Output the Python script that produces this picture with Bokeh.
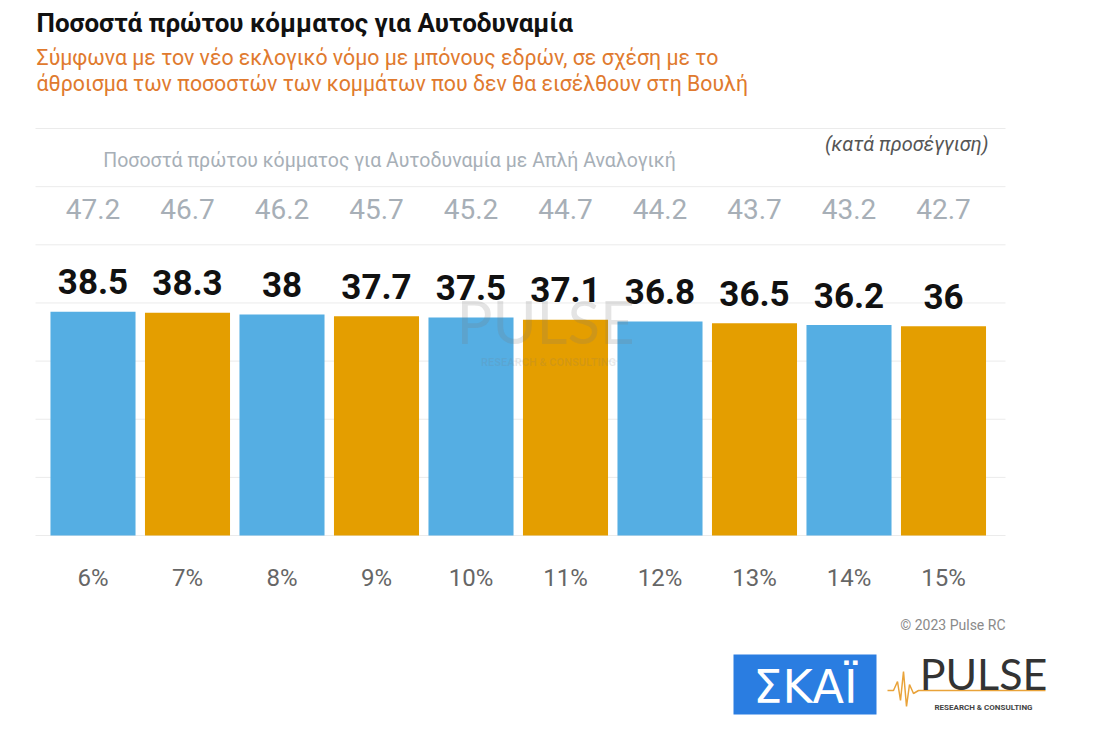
from bokeh.plotting import figure
from bokeh.models import Range1d, ColumnDataSource
from bokeh.core.properties import value
from bokeh.embed import file_html
from bokeh.resources import INLINE

# ---------------- data ----------------
thresholds = ["6%", "7%", "8%", "9%", "10%", "11%", "12%", "13%", "14%", "15%"]
first_party = [38.5, 38.3, 38.0, 37.7, 37.5, 37.1, 36.8, 36.5, 36.2, 36.0]
simple_prop = [47.2, 46.7, 46.2, 45.7, 45.2, 44.7, 44.2, 43.7, 43.2, 42.7]
grid_ticks = [0, 10, 20, 30, 40, 50, 60, 70]

title = "Ποσοστά πρώτου κόμματος για Αυτοδυναμία"
subtitle_1 = "Σύμφωνα με τον νέο εκλογικό νόμο με μπόνους εδρών, σε σχέση με το"
subtitle_2 = "άθροισμα των ποσοστών των κομμάτων που δεν θα εισέλθουν στη Βουλή"
row_heading = "Ποσοστά πρώτου κόμματος για Αυτοδυναμία με Απλή Αναλογική"
approx_note = "(κατά προσέγγιση)"
credit = "© 2023 Pulse RC"

BLUE = "#55AEE3"
ORANGE = "#E49E00"
FONT = value("Roboto")

# ---------------- layout helpers (page pixel -> data) ----------------
W, H = 1084, 724
X0, DX = 92.5, 94.5     # page x of first bar centre, bar spacing
Y0, DY = 535.0, 5.814   # page y of zero line, pixels per unit
OFF = 0                 # page offset of the canvas


def px(x):
    return (x - X0) / DX


def py(y):
    return (Y0 - y) / DY


p = figure(width=W, height=H, output_backend="svg", toolbar_location=None,
           x_range=Range1d(px(OFF), px(OFF + W)),
           y_range=Range1d(py(OFF + H), py(OFF)),
           x_axis_location=None, y_axis_location=None, min_border=0,
           tools="")
p.outline_line_color = None
p.xgrid.visible = False
p.ygrid.visible = False
p.background_fill_color = "white"
p.border_fill_color = "white"

idx = list(range(len(thresholds)))
colors = [BLUE if i % 2 == 0 else ORANGE for i in idx]

# grid lines
p.segment(x0=[px(35)] * len(grid_ticks), x1=[px(1005)] * len(grid_ticks),
          y0=grid_ticks, y1=grid_ticks, line_color="#EBEBEB", line_width=1)

# bars
src = ColumnDataSource(dict(x=idx, top=first_party, color=colors,
                            lab=[f"{v:g}" for v in first_party],
                            sp=[f"{v:g}" for v in simple_prop],
                            cat=thresholds))
p.vbar(x="x", top="top", width=0.9, bottom=0, fill_color="color",
       line_color=None, source=src)

# value labels above bars
p.text(x="x", y="top", text="lab", source=src, text_align="center",
       text_baseline="middle", y_offset=-30, text_font=FONT,
       text_font_size="35px", text_font_style="bold", text_color="#111111")

# simple-proportional row
p.text(x="x", y=py(208), text="sp", source=src,
       text_align="center", text_baseline="middle", text_font=FONT,
       text_font_size="28px", text_color="#A7AFB7")

# category labels
p.text(x="x", y=py(577), text="cat", source=src,
       text_align="center", text_baseline="middle", text_font=FONT,
       text_font_size="24px", text_color="#666666")

# titles
p.text(x=[px(36)], y=[py(22)], text=[title], text_align="left",
       text_baseline="middle", text_font=FONT, text_font_size="26px",
       text_font_style="bold", text_color="#111111")
p.text(x=[px(36), px(36)], y=[py(57), py(83)], text=[subtitle_1, subtitle_2],
       text_align="left", text_baseline="middle", text_font=FONT,
       text_font_size="21.3px", text_color="#E07A2E")
p.text(x=[px(389)], y=[py(160)], text=[row_heading], text_align="center",
       text_baseline="middle", text_font=FONT, text_font_size="19.5px",
       text_color="#A7AFB7")
p.text(x=[px(988)], y=[py(143)], text=[approx_note], text_align="right",
       text_baseline="middle", text_font=FONT, text_font_size="20px",
       text_font_style="italic", text_color="#555555")
p.text(x=[px(1005)], y=[py(624)], text=[credit], text_align="right",
       text_baseline="middle", text_font=FONT, text_font_size="14px",
       text_color="#8A8A8A")

# watermark
p.text(x=[px(545)], y=[py(320)], text=["PULSE"], text_align="center",
       text_baseline="middle", text_font=value("Lato"), text_font_size="60px",
       text_color="#777777", text_alpha=0.2)
p.text(x=[px(548)], y=[py(362)], text=["RESEARCH & CONSULTING"],
       text_align="center", text_baseline="middle", text_font=FONT,
       text_font_size="11px", text_font_style="bold", text_color="#777777",
       text_alpha=0.16)

# SKAI logo
p.quad(left=[px(733)], right=[px(876)], top=[py(654)], bottom=[py(714)],
       fill_color="#2A7DE1", line_color=None)
p.text(x=[px(805)], y=[py(686)], text=["ΣΚΑΪ"], text_align="center",
       text_baseline="middle", text_font=value("DejaVu Sans"),
       text_font_size="46px", text_color="white")

# PULSE logo
pulse_x = [887, 893, 897, 900, 903, 906, 909, 913, 918, 1045]
pulse_y = [690, 690, 681, 700, 671, 706, 684, 693, 690, 690]
p.line(x=[px(v) for v in pulse_x], y=[py(v) for v in pulse_y],
       line_color="#E9A33A", line_width=1.5)
p.text(x=[px(983)], y=[py(673)], text=["PULSE"], text_align="center",
       text_baseline="middle", text_font=value("Lato"), text_font_size="43px",
       text_color="#333333")
p.text(x=[px(983)], y=[py(707)], text=["RESEARCH & CONSULTING"],
       text_align="center", text_baseline="middle", text_font=FONT,
       text_font_size="8px", text_font_style="bold", text_color="#444444")

open("out.html", "w").write(file_html(p, INLINE))
